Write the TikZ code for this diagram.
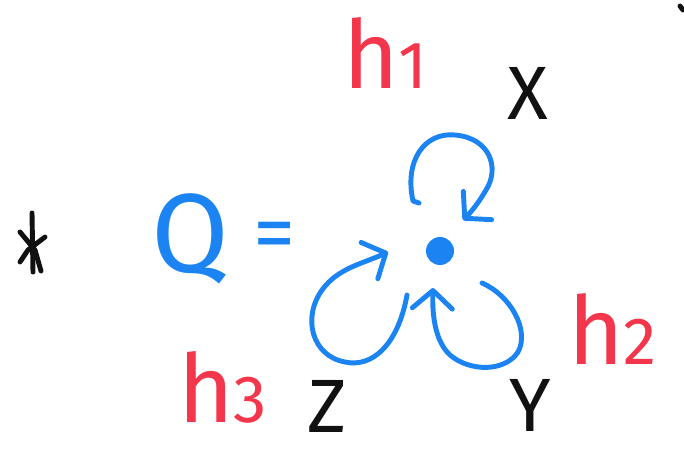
\documentclass[tikz,border=0pt]{standalone}
\usepackage{fontspec}
\setmainfont{Fira Sans}
\usetikzlibrary{arrows.meta}
\definecolor{sketchblue}{HTML}{1C84F2}
\definecolor{sketchred}{HTML}{F4364C}
\definecolor{sketchink}{HTML}{111111}
\newcommand\hidx[1]{h{\fontsize{38}{38}\selectfont #1}}

\begin{document}
\begin{tikzpicture}[x=0.2mm,y=-0.2mm,>={Straight Barb[length=3.6mm,width=8mm,round]}]
  \tikzstyle{var}=[font=\fontsize{43}{43}\selectfont, text=sketchink, inner sep=0pt]
  \tikzstyle{weight}=[font=\fontsize{54}{54}\selectfont, text=sketchred, inner sep=0pt, anchor=base west]
  \tikzstyle{query}=[font=\fontsize{64}{64}\selectfont, text=sketchblue, inner sep=0pt]
  \tikzstyle{loop}=[->, line width=2.8pt, draw=sketchblue, line cap=round, line join=round]
  \tikzstyle{ink}=[line width=2.8pt, draw=sketchink, line cap=round, line join=round]

  \path[use as bounding box] (0,0) rectangle (684,452);

  \node[query, anchor=base] (q) at (190,272) {Q};
  \node[query, font=\fontsize{48}{48}\selectfont] (eq) at (275,242) {=};

  \node[var] (x) at (528,93) {X};
  \node[var] (y) at (530,405) {Y};
  \node[var] (z) at (327,406) {Z};

  \node[weight] (h1) at (343,88) {\hidx{1}};
  \node[weight] (h2) at (568,364) {\hidx{2}};
  \node[weight] (h3) at (178,422) {\hidx{3}};

  \node[circle, fill=sketchblue, inner sep=0pt, minimum size=5.6mm] (core) at (440,251) {};

  % loops round the core
  \coordinate (xout) at (419,203);
  \coordinate (xin) at (463,220);
  \draw[loop] (xout) -- (413,201) .. controls (404,160) and (425,132) .. (455,135)
    .. controls (490,138) and (500,168) .. (486,190) .. controls (479,202) and (472,211) .. (xin);

  \coordinate (zout) at (407,295);
  \coordinate (zin) at (388,252);
  \draw[loop] (zout) .. controls (398,345) and (372,368) .. (345,362)
    .. controls (312,356) and (302,318) .. (322,290) .. controls (338,268) and (362,264) .. (zin);

  \coordinate (yout) at (482,283);
  \coordinate (yin) at (433,288);
  \draw[loop] (yout) .. controls (510,295) and (530,330) .. (518,352)
    .. controls (505,372) and (470,372) .. (450,355) .. controls (436,342) and (432,318) .. (yin);

  % marks
  \draw[ink] (32,213) -- (33,272);
  \draw[ink] (20,232) -- (35,250) -- (41,271);
  \draw[ink] (45,237) -- (28,250) -- (20,262);
  \draw[ink] (680,6) -- (683,10);
\end{tikzpicture}
\end{document}
